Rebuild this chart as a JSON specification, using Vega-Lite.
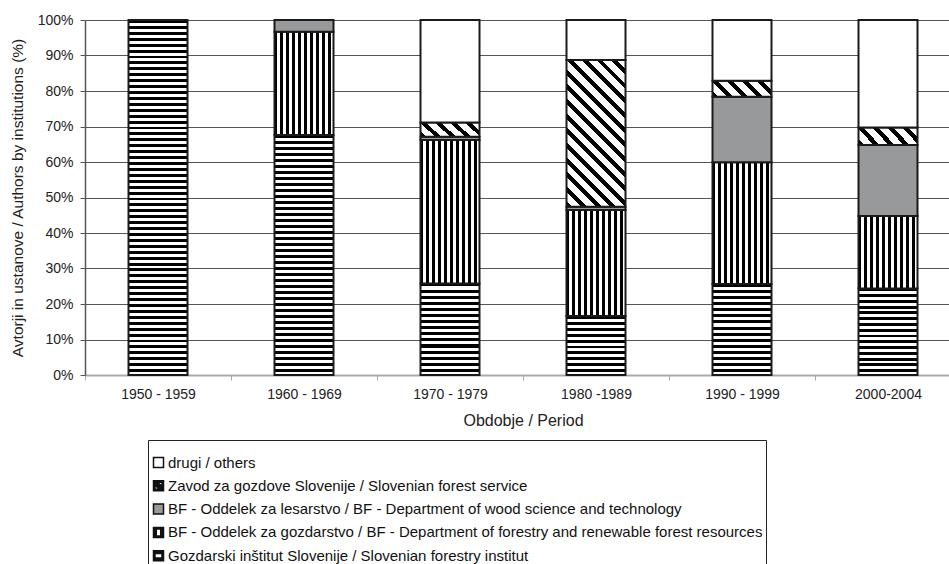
{
"$schema": "https://vega.github.io/schema/vega-lite/v6.json",
"width": 864,
"height": 355,
"autosize": {"type": "none"},
"padding": {"left": 85, "top": 20, "right": 0, "bottom": 189},
"background": "white",
"config": {
  "font": "Liberation Sans",
  "view": {"stroke": null},
  "axis": {"labelFont": "Liberation Sans", "titleFont": "Liberation Sans", "labelColor": "#222", "titleColor": "#222", "labelFontSize": 14, "titleFontWeight": "normal"},
  "legend": {"labelFont": "Liberation Sans", "titleFont": "Liberation Sans"}
},
"data": {"values": [
  {"period": "1950 - 1959", "inst": "Gozdarski inštitut Slovenije / Slovenian forestry institut", "ord": 1, "pct": 100},
  {"period": "1960 - 1969", "inst": "Gozdarski inštitut Slovenije / Slovenian forestry institut", "ord": 1, "pct": 67.6},
  {"period": "1960 - 1969", "inst": "BF - Oddelek za gozdarstvo / BF - Department of forestry and renewable forest resources", "ord": 2, "pct": 29.1},
  {"period": "1960 - 1969", "inst": "BF - Oddelek za lesarstvo / BF - Department of wood science and technology", "ord": 3, "pct": 3.3},
  {"period": "1970 - 1979", "inst": "Gozdarski inštitut Slovenije / Slovenian forestry institut", "ord": 1, "pct": 25.8},
  {"period": "1970 - 1979", "inst": "BF - Oddelek za gozdarstvo / BF - Department of forestry and renewable forest resources", "ord": 2, "pct": 40.4},
  {"period": "1970 - 1979", "inst": "BF - Oddelek za lesarstvo / BF - Department of wood science and technology", "ord": 3, "pct": 0.9},
  {"period": "1970 - 1979", "inst": "Zavod za gozdove Slovenije / Slovenian forest service", "ord": 4, "pct": 4.0},
  {"period": "1970 - 1979", "inst": "drugi / others", "ord": 5, "pct": 28.9},
  {"period": "1980 -1989", "inst": "Gozdarski inštitut Slovenije / Slovenian forestry institut", "ord": 1, "pct": 16.6},
  {"period": "1980 -1989", "inst": "BF - Oddelek za gozdarstvo / BF - Department of forestry and renewable forest resources", "ord": 2, "pct": 29.9},
  {"period": "1980 -1989", "inst": "BF - Oddelek za lesarstvo / BF - Department of wood science and technology", "ord": 3, "pct": 0.9},
  {"period": "1980 -1989", "inst": "Zavod za gozdove Slovenije / Slovenian forest service", "ord": 4, "pct": 41.3},
  {"period": "1980 -1989", "inst": "drugi / others", "ord": 5, "pct": 11.3},
  {"period": "1990 - 1999", "inst": "Gozdarski inštitut Slovenije / Slovenian forestry institut", "ord": 1, "pct": 25.6},
  {"period": "1990 - 1999", "inst": "BF - Oddelek za gozdarstvo / BF - Department of forestry and renewable forest resources", "ord": 2, "pct": 34.3},
  {"period": "1990 - 1999", "inst": "BF - Oddelek za lesarstvo / BF - Department of wood science and technology", "ord": 3, "pct": 18.5},
  {"period": "1990 - 1999", "inst": "Zavod za gozdove Slovenije / Slovenian forest service", "ord": 4, "pct": 4.5},
  {"period": "1990 - 1999", "inst": "drugi / others", "ord": 5, "pct": 17.1},
  {"period": "2000-2004", "inst": "Gozdarski inštitut Slovenije / Slovenian forestry institut", "ord": 1, "pct": 24.4},
  {"period": "2000-2004", "inst": "BF - Oddelek za gozdarstvo / BF - Department of forestry and renewable forest resources", "ord": 2, "pct": 20.4},
  {"period": "2000-2004", "inst": "BF - Oddelek za lesarstvo / BF - Department of wood science and technology", "ord": 3, "pct": 20.0},
  {"period": "2000-2004", "inst": "Zavod za gozdove Slovenije / Slovenian forest service", "ord": 4, "pct": 4.9},
  {"period": "2000-2004", "inst": "drugi / others", "ord": 5, "pct": 30.3}
]},
"layer": [
{
"mark": {"type": "bar", "width": 59, "strokeWidth": 2, "stroke": "#1a1a1a"},
"encoding": {
  "x": {"field": "period", "type": "nominal", "sort": null,
    "scale": {"range": [0, 876], "paddingInner": 0, "paddingOuter": 0},
    "axis": {"title": "Obdobje / Period", "labelAngle": 0, "tickBand": "extent", "domainColor": "#aaa", "domainWidth": 2, "tickColor": "#aaa", "tickSize": 5, "labelPadding": 7, "titlePadding": 11, "titleFontSize": 16, "grid": false}},
  "y": {"field": "pct", "type": "quantitative", "stack": "zero",
    "scale": {"domain": [0, 100], "nice": false},
    "axis": {"title": "Avtorji in ustanove / Authors by institutions (%)", "titleFontSize": 15.5, "values": [0, 10, 20, 30, 40, 50, 60, 70, 80, 90, 100], "labelExpr": "datum.value + '%'", "grid": true, "gridColor": "#555", "gridWidth": 1, "domainColor": "#555", "domainWidth": 1.5, "tickColor": "#555", "tickSize": 5, "labelPadding": 7, "titlePadding": 12}},
  "order": {"field": "ord", "type": "quantitative"},
  "detail": {"field": "inst", "type": "nominal"},
  "fill": {"condition": [
    {"test": "datum.ord == 1 && datum.period == '1950 - 1959'", "value": {"gradient": "linear", "x1": 0.5, "y1": 0, "x2": 0.5, "y2": 1, "stops": [
      {"offset":0,"color":"#000"},
      {"offset":0.0083,"color":"#000"},{"offset":0.0083,"color":"#fff"},{"offset":0.0167,"color":"#fff"},{"offset":0.0167,"color":"#000"},
      {"offset":0.025,"color":"#000"},{"offset":0.025,"color":"#fff"},{"offset":0.0333,"color":"#fff"},{"offset":0.0333,"color":"#000"},
      {"offset":0.0417,"color":"#000"},{"offset":0.0417,"color":"#fff"},{"offset":0.05,"color":"#fff"},{"offset":0.05,"color":"#000"},
      {"offset":0.0583,"color":"#000"},{"offset":0.0583,"color":"#fff"},{"offset":0.0667,"color":"#fff"},{"offset":0.0667,"color":"#000"},
      {"offset":0.075,"color":"#000"},{"offset":0.075,"color":"#fff"},{"offset":0.0833,"color":"#fff"},{"offset":0.0833,"color":"#000"},
      {"offset":0.0917,"color":"#000"},{"offset":0.0917,"color":"#fff"},{"offset":0.1,"color":"#fff"},{"offset":0.1,"color":"#000"},
      {"offset":0.1083,"color":"#000"},{"offset":0.1083,"color":"#fff"},{"offset":0.1167,"color":"#fff"},{"offset":0.1167,"color":"#000"},
      {"offset":0.125,"color":"#000"},{"offset":0.125,"color":"#fff"},{"offset":0.1333,"color":"#fff"},{"offset":0.1333,"color":"#000"},
      {"offset":0.1417,"color":"#000"},{"offset":0.1417,"color":"#fff"},{"offset":0.15,"color":"#fff"},{"offset":0.15,"color":"#000"},
      {"offset":0.1583,"color":"#000"},{"offset":0.1583,"color":"#fff"},{"offset":0.1667,"color":"#fff"},{"offset":0.1667,"color":"#000"},
      {"offset":0.175,"color":"#000"},{"offset":0.175,"color":"#fff"},{"offset":0.1833,"color":"#fff"},{"offset":0.1833,"color":"#000"},
      {"offset":0.1917,"color":"#000"},{"offset":0.1917,"color":"#fff"},{"offset":0.2,"color":"#fff"},{"offset":0.2,"color":"#000"},
      {"offset":0.2083,"color":"#000"},{"offset":0.2083,"color":"#fff"},{"offset":0.2167,"color":"#fff"},{"offset":0.2167,"color":"#000"},
      {"offset":0.225,"color":"#000"},{"offset":0.225,"color":"#fff"},{"offset":0.2333,"color":"#fff"},{"offset":0.2333,"color":"#000"},
      {"offset":0.2417,"color":"#000"},{"offset":0.2417,"color":"#fff"},{"offset":0.25,"color":"#fff"},{"offset":0.25,"color":"#000"},
      {"offset":0.2583,"color":"#000"},{"offset":0.2583,"color":"#fff"},{"offset":0.2667,"color":"#fff"},{"offset":0.2667,"color":"#000"},
      {"offset":0.275,"color":"#000"},{"offset":0.275,"color":"#fff"},{"offset":0.2833,"color":"#fff"},{"offset":0.2833,"color":"#000"},
      {"offset":0.2917,"color":"#000"},{"offset":0.2917,"color":"#fff"},{"offset":0.3,"color":"#fff"},{"offset":0.3,"color":"#000"},
      {"offset":0.3083,"color":"#000"},{"offset":0.3083,"color":"#fff"},{"offset":0.3167,"color":"#fff"},{"offset":0.3167,"color":"#000"},
      {"offset":0.325,"color":"#000"},{"offset":0.325,"color":"#fff"},{"offset":0.3333,"color":"#fff"},{"offset":0.3333,"color":"#000"},
      {"offset":0.3417,"color":"#000"},{"offset":0.3417,"color":"#fff"},{"offset":0.35,"color":"#fff"},{"offset":0.35,"color":"#000"},
      {"offset":0.3583,"color":"#000"},{"offset":0.3583,"color":"#fff"},{"offset":0.3667,"color":"#fff"},{"offset":0.3667,"color":"#000"},
      {"offset":0.375,"color":"#000"},{"offset":0.375,"color":"#fff"},{"offset":0.3833,"color":"#fff"},{"offset":0.3833,"color":"#000"},
      {"offset":0.3917,"color":"#000"},{"offset":0.3917,"color":"#fff"},{"offset":0.4,"color":"#fff"},{"offset":0.4,"color":"#000"},
      {"offset":0.4083,"color":"#000"},{"offset":0.4083,"color":"#fff"},{"offset":0.4167,"color":"#fff"},{"offset":0.4167,"color":"#000"},
      {"offset":0.425,"color":"#000"},{"offset":0.425,"color":"#fff"},{"offset":0.4333,"color":"#fff"},{"offset":0.4333,"color":"#000"},
      {"offset":0.4417,"color":"#000"},{"offset":0.4417,"color":"#fff"},{"offset":0.45,"color":"#fff"},{"offset":0.45,"color":"#000"},
      {"offset":0.4583,"color":"#000"},{"offset":0.4583,"color":"#fff"},{"offset":0.4667,"color":"#fff"},{"offset":0.4667,"color":"#000"},
      {"offset":0.475,"color":"#000"},{"offset":0.475,"color":"#fff"},{"offset":0.4833,"color":"#fff"},{"offset":0.4833,"color":"#000"},
      {"offset":0.4917,"color":"#000"},{"offset":0.4917,"color":"#fff"},{"offset":0.5,"color":"#fff"},{"offset":0.5,"color":"#000"},
      {"offset":0.5083,"color":"#000"},{"offset":0.5083,"color":"#fff"},{"offset":0.5167,"color":"#fff"},{"offset":0.5167,"color":"#000"},
      {"offset":0.525,"color":"#000"},{"offset":0.525,"color":"#fff"},{"offset":0.5333,"color":"#fff"},{"offset":0.5333,"color":"#000"},
      {"offset":0.5417,"color":"#000"},{"offset":0.5417,"color":"#fff"},{"offset":0.55,"color":"#fff"},{"offset":0.55,"color":"#000"},
      {"offset":0.5583,"color":"#000"},{"offset":0.5583,"color":"#fff"},{"offset":0.5667,"color":"#fff"},{"offset":0.5667,"color":"#000"},
      {"offset":0.575,"color":"#000"},{"offset":0.575,"color":"#fff"},{"offset":0.5833,"color":"#fff"},{"offset":0.5833,"color":"#000"},
      {"offset":0.5917,"color":"#000"},{"offset":0.5917,"color":"#fff"},{"offset":0.6,"color":"#fff"},{"offset":0.6,"color":"#000"},
      {"offset":0.6083,"color":"#000"},{"offset":0.6083,"color":"#fff"},{"offset":0.6167,"color":"#fff"},{"offset":0.6167,"color":"#000"},
      {"offset":0.625,"color":"#000"},{"offset":0.625,"color":"#fff"},{"offset":0.6333,"color":"#fff"},{"offset":0.6333,"color":"#000"},
      {"offset":0.6417,"color":"#000"},{"offset":0.6417,"color":"#fff"},{"offset":0.65,"color":"#fff"},{"offset":0.65,"color":"#000"},
      {"offset":0.6583,"color":"#000"},{"offset":0.6583,"color":"#fff"},{"offset":0.6667,"color":"#fff"},{"offset":0.6667,"color":"#000"},
      {"offset":0.675,"color":"#000"},{"offset":0.675,"color":"#fff"},{"offset":0.6833,"color":"#fff"},{"offset":0.6833,"color":"#000"},
      {"offset":0.6917,"color":"#000"},{"offset":0.6917,"color":"#fff"},{"offset":0.7,"color":"#fff"},{"offset":0.7,"color":"#000"},
      {"offset":0.7083,"color":"#000"},{"offset":0.7083,"color":"#fff"},{"offset":0.7167,"color":"#fff"},{"offset":0.7167,"color":"#000"},
      {"offset":0.725,"color":"#000"},{"offset":0.725,"color":"#fff"},{"offset":0.7333,"color":"#fff"},{"offset":0.7333,"color":"#000"},
      {"offset":0.7417,"color":"#000"},{"offset":0.7417,"color":"#fff"},{"offset":0.75,"color":"#fff"},{"offset":0.75,"color":"#000"},
      {"offset":0.7583,"color":"#000"},{"offset":0.7583,"color":"#fff"},{"offset":0.7667,"color":"#fff"},{"offset":0.7667,"color":"#000"},
      {"offset":0.775,"color":"#000"},{"offset":0.775,"color":"#fff"},{"offset":0.7833,"color":"#fff"},{"offset":0.7833,"color":"#000"},
      {"offset":0.7917,"color":"#000"},{"offset":0.7917,"color":"#fff"},{"offset":0.8,"color":"#fff"},{"offset":0.8,"color":"#000"},
      {"offset":0.8083,"color":"#000"},{"offset":0.8083,"color":"#fff"},{"offset":0.8167,"color":"#fff"},{"offset":0.8167,"color":"#000"},
      {"offset":0.825,"color":"#000"},{"offset":0.825,"color":"#fff"},{"offset":0.8333,"color":"#fff"},{"offset":0.8333,"color":"#000"},
      {"offset":0.8417,"color":"#000"},{"offset":0.8417,"color":"#fff"},{"offset":0.85,"color":"#fff"},{"offset":0.85,"color":"#000"},
      {"offset":0.8583,"color":"#000"},{"offset":0.8583,"color":"#fff"},{"offset":0.8667,"color":"#fff"},{"offset":0.8667,"color":"#000"},
      {"offset":0.875,"color":"#000"},{"offset":0.875,"color":"#fff"},{"offset":0.8833,"color":"#fff"},{"offset":0.8833,"color":"#000"},
      {"offset":0.8917,"color":"#000"},{"offset":0.8917,"color":"#fff"},{"offset":0.9,"color":"#fff"},{"offset":0.9,"color":"#000"},
      {"offset":0.9083,"color":"#000"},{"offset":0.9083,"color":"#fff"},{"offset":0.9167,"color":"#fff"},{"offset":0.9167,"color":"#000"},
      {"offset":0.925,"color":"#000"},{"offset":0.925,"color":"#fff"},{"offset":0.9333,"color":"#fff"},{"offset":0.9333,"color":"#000"},
      {"offset":0.9417,"color":"#000"},{"offset":0.9417,"color":"#fff"},{"offset":0.95,"color":"#fff"},{"offset":0.95,"color":"#000"},
      {"offset":0.9583,"color":"#000"},{"offset":0.9583,"color":"#fff"},{"offset":0.9667,"color":"#fff"},{"offset":0.9667,"color":"#000"},
      {"offset":0.975,"color":"#000"},{"offset":0.975,"color":"#fff"},{"offset":0.9833,"color":"#fff"},{"offset":0.9833,"color":"#000"},
      {"offset":0.9917,"color":"#000"},{"offset":0.9917,"color":"#fff"},{"offset":1,"color":"#fff"}
    ]}},
    {"test": "datum.ord == 1 && datum.period == '1960 - 1969'", "value": {"gradient": "linear", "x1": 0.5, "y1": 0, "x2": 0.5, "y2": 1, "stops": [
      {"offset":0,"color":"#000"},
      {"offset":0.0125,"color":"#000"},{"offset":0.0125,"color":"#fff"},{"offset":0.025,"color":"#fff"},{"offset":0.025,"color":"#000"},
      {"offset":0.0375,"color":"#000"},{"offset":0.0375,"color":"#fff"},{"offset":0.05,"color":"#fff"},{"offset":0.05,"color":"#000"},
      {"offset":0.0625,"color":"#000"},{"offset":0.0625,"color":"#fff"},{"offset":0.075,"color":"#fff"},{"offset":0.075,"color":"#000"},
      {"offset":0.0875,"color":"#000"},{"offset":0.0875,"color":"#fff"},{"offset":0.1,"color":"#fff"},{"offset":0.1,"color":"#000"},
      {"offset":0.1125,"color":"#000"},{"offset":0.1125,"color":"#fff"},{"offset":0.125,"color":"#fff"},{"offset":0.125,"color":"#000"},
      {"offset":0.1375,"color":"#000"},{"offset":0.1375,"color":"#fff"},{"offset":0.15,"color":"#fff"},{"offset":0.15,"color":"#000"},
      {"offset":0.1625,"color":"#000"},{"offset":0.1625,"color":"#fff"},{"offset":0.175,"color":"#fff"},{"offset":0.175,"color":"#000"},
      {"offset":0.1875,"color":"#000"},{"offset":0.1875,"color":"#fff"},{"offset":0.2,"color":"#fff"},{"offset":0.2,"color":"#000"},
      {"offset":0.2125,"color":"#000"},{"offset":0.2125,"color":"#fff"},{"offset":0.225,"color":"#fff"},{"offset":0.225,"color":"#000"},
      {"offset":0.2375,"color":"#000"},{"offset":0.2375,"color":"#fff"},{"offset":0.25,"color":"#fff"},{"offset":0.25,"color":"#000"},
      {"offset":0.2625,"color":"#000"},{"offset":0.2625,"color":"#fff"},{"offset":0.275,"color":"#fff"},{"offset":0.275,"color":"#000"},
      {"offset":0.2875,"color":"#000"},{"offset":0.2875,"color":"#fff"},{"offset":0.3,"color":"#fff"},{"offset":0.3,"color":"#000"},
      {"offset":0.3125,"color":"#000"},{"offset":0.3125,"color":"#fff"},{"offset":0.325,"color":"#fff"},{"offset":0.325,"color":"#000"},
      {"offset":0.3375,"color":"#000"},{"offset":0.3375,"color":"#fff"},{"offset":0.35,"color":"#fff"},{"offset":0.35,"color":"#000"},
      {"offset":0.3625,"color":"#000"},{"offset":0.3625,"color":"#fff"},{"offset":0.375,"color":"#fff"},{"offset":0.375,"color":"#000"},
      {"offset":0.3875,"color":"#000"},{"offset":0.3875,"color":"#fff"},{"offset":0.4,"color":"#fff"},{"offset":0.4,"color":"#000"},
      {"offset":0.4125,"color":"#000"},{"offset":0.4125,"color":"#fff"},{"offset":0.425,"color":"#fff"},{"offset":0.425,"color":"#000"},
      {"offset":0.4375,"color":"#000"},{"offset":0.4375,"color":"#fff"},{"offset":0.45,"color":"#fff"},{"offset":0.45,"color":"#000"},
      {"offset":0.4625,"color":"#000"},{"offset":0.4625,"color":"#fff"},{"offset":0.475,"color":"#fff"},{"offset":0.475,"color":"#000"},
      {"offset":0.4875,"color":"#000"},{"offset":0.4875,"color":"#fff"},{"offset":0.5,"color":"#fff"},{"offset":0.5,"color":"#000"},
      {"offset":0.5125,"color":"#000"},{"offset":0.5125,"color":"#fff"},{"offset":0.525,"color":"#fff"},{"offset":0.525,"color":"#000"},
      {"offset":0.5375,"color":"#000"},{"offset":0.5375,"color":"#fff"},{"offset":0.55,"color":"#fff"},{"offset":0.55,"color":"#000"},
      {"offset":0.5625,"color":"#000"},{"offset":0.5625,"color":"#fff"},{"offset":0.575,"color":"#fff"},{"offset":0.575,"color":"#000"},
      {"offset":0.5875,"color":"#000"},{"offset":0.5875,"color":"#fff"},{"offset":0.6,"color":"#fff"},{"offset":0.6,"color":"#000"},
      {"offset":0.6125,"color":"#000"},{"offset":0.6125,"color":"#fff"},{"offset":0.625,"color":"#fff"},{"offset":0.625,"color":"#000"},
      {"offset":0.6375,"color":"#000"},{"offset":0.6375,"color":"#fff"},{"offset":0.65,"color":"#fff"},{"offset":0.65,"color":"#000"},
      {"offset":0.6625,"color":"#000"},{"offset":0.6625,"color":"#fff"},{"offset":0.675,"color":"#fff"},{"offset":0.675,"color":"#000"},
      {"offset":0.6875,"color":"#000"},{"offset":0.6875,"color":"#fff"},{"offset":0.7,"color":"#fff"},{"offset":0.7,"color":"#000"},
      {"offset":0.7125,"color":"#000"},{"offset":0.7125,"color":"#fff"},{"offset":0.725,"color":"#fff"},{"offset":0.725,"color":"#000"},
      {"offset":0.7375,"color":"#000"},{"offset":0.7375,"color":"#fff"},{"offset":0.75,"color":"#fff"},{"offset":0.75,"color":"#000"},
      {"offset":0.7625,"color":"#000"},{"offset":0.7625,"color":"#fff"},{"offset":0.775,"color":"#fff"},{"offset":0.775,"color":"#000"},
      {"offset":0.7875,"color":"#000"},{"offset":0.7875,"color":"#fff"},{"offset":0.8,"color":"#fff"},{"offset":0.8,"color":"#000"},
      {"offset":0.8125,"color":"#000"},{"offset":0.8125,"color":"#fff"},{"offset":0.825,"color":"#fff"},{"offset":0.825,"color":"#000"},
      {"offset":0.8375,"color":"#000"},{"offset":0.8375,"color":"#fff"},{"offset":0.85,"color":"#fff"},{"offset":0.85,"color":"#000"},
      {"offset":0.8625,"color":"#000"},{"offset":0.8625,"color":"#fff"},{"offset":0.875,"color":"#fff"},{"offset":0.875,"color":"#000"},
      {"offset":0.8875,"color":"#000"},{"offset":0.8875,"color":"#fff"},{"offset":0.9,"color":"#fff"},{"offset":0.9,"color":"#000"},
      {"offset":0.9125,"color":"#000"},{"offset":0.9125,"color":"#fff"},{"offset":0.925,"color":"#fff"},{"offset":0.925,"color":"#000"},
      {"offset":0.9375,"color":"#000"},{"offset":0.9375,"color":"#fff"},{"offset":0.95,"color":"#fff"},{"offset":0.95,"color":"#000"},
      {"offset":0.9625,"color":"#000"},{"offset":0.9625,"color":"#fff"},{"offset":0.975,"color":"#fff"},{"offset":0.975,"color":"#000"},
      {"offset":0.9875,"color":"#000"},{"offset":0.9875,"color":"#fff"},{"offset":1,"color":"#fff"}
    ]}},
    {"test": "datum.ord == 1 && datum.period == '1980 -1989'", "value": {"gradient": "linear", "x1": 0.5, "y1": 0, "x2": 0.5, "y2": 1, "stops": [
      {"offset":0,"color":"#000"},
      {"offset":0.05,"color":"#000"},{"offset":0.05,"color":"#fff"},{"offset":0.1,"color":"#fff"},{"offset":0.1,"color":"#000"},
      {"offset":0.15,"color":"#000"},{"offset":0.15,"color":"#fff"},{"offset":0.2,"color":"#fff"},{"offset":0.2,"color":"#000"},
      {"offset":0.25,"color":"#000"},{"offset":0.25,"color":"#fff"},{"offset":0.3,"color":"#fff"},{"offset":0.3,"color":"#000"},
      {"offset":0.35,"color":"#000"},{"offset":0.35,"color":"#fff"},{"offset":0.4,"color":"#fff"},{"offset":0.4,"color":"#000"},
      {"offset":0.45,"color":"#000"},{"offset":0.45,"color":"#fff"},{"offset":0.5,"color":"#fff"},{"offset":0.5,"color":"#000"},
      {"offset":0.55,"color":"#000"},{"offset":0.55,"color":"#fff"},{"offset":0.6,"color":"#fff"},{"offset":0.6,"color":"#000"},
      {"offset":0.65,"color":"#000"},{"offset":0.65,"color":"#fff"},{"offset":0.7,"color":"#fff"},{"offset":0.7,"color":"#000"},
      {"offset":0.75,"color":"#000"},{"offset":0.75,"color":"#fff"},{"offset":0.8,"color":"#fff"},{"offset":0.8,"color":"#000"},
      {"offset":0.85,"color":"#000"},{"offset":0.85,"color":"#fff"},{"offset":0.9,"color":"#fff"},{"offset":0.9,"color":"#000"},
      {"offset":0.95,"color":"#000"},{"offset":0.95,"color":"#fff"},{"offset":1,"color":"#fff"}
    ]}},
    {"test": "datum.ord == 1", "value": {"gradient": "linear", "x1": 0.5, "y1": 0, "x2": 0.5, "y2": 1, "stops": [
      {"offset":0,"color":"#000"},
      {"offset":0.0333,"color":"#000"},{"offset":0.0333,"color":"#fff"},{"offset":0.0667,"color":"#fff"},{"offset":0.0667,"color":"#000"},
      {"offset":0.1,"color":"#000"},{"offset":0.1,"color":"#fff"},{"offset":0.1333,"color":"#fff"},{"offset":0.1333,"color":"#000"},
      {"offset":0.1667,"color":"#000"},{"offset":0.1667,"color":"#fff"},{"offset":0.2,"color":"#fff"},{"offset":0.2,"color":"#000"},
      {"offset":0.2333,"color":"#000"},{"offset":0.2333,"color":"#fff"},{"offset":0.2667,"color":"#fff"},{"offset":0.2667,"color":"#000"},
      {"offset":0.3,"color":"#000"},{"offset":0.3,"color":"#fff"},{"offset":0.3333,"color":"#fff"},{"offset":0.3333,"color":"#000"},
      {"offset":0.3667,"color":"#000"},{"offset":0.3667,"color":"#fff"},{"offset":0.4,"color":"#fff"},{"offset":0.4,"color":"#000"},
      {"offset":0.4333,"color":"#000"},{"offset":0.4333,"color":"#fff"},{"offset":0.4667,"color":"#fff"},{"offset":0.4667,"color":"#000"},
      {"offset":0.5,"color":"#000"},{"offset":0.5,"color":"#fff"},{"offset":0.5333,"color":"#fff"},{"offset":0.5333,"color":"#000"},
      {"offset":0.5667,"color":"#000"},{"offset":0.5667,"color":"#fff"},{"offset":0.6,"color":"#fff"},{"offset":0.6,"color":"#000"},
      {"offset":0.6333,"color":"#000"},{"offset":0.6333,"color":"#fff"},{"offset":0.6667,"color":"#fff"},{"offset":0.6667,"color":"#000"},
      {"offset":0.7,"color":"#000"},{"offset":0.7,"color":"#fff"},{"offset":0.7333,"color":"#fff"},{"offset":0.7333,"color":"#000"},
      {"offset":0.7667,"color":"#000"},{"offset":0.7667,"color":"#fff"},{"offset":0.8,"color":"#fff"},{"offset":0.8,"color":"#000"},
      {"offset":0.8333,"color":"#000"},{"offset":0.8333,"color":"#fff"},{"offset":0.8667,"color":"#fff"},{"offset":0.8667,"color":"#000"},
      {"offset":0.9,"color":"#000"},{"offset":0.9,"color":"#fff"},{"offset":0.9333,"color":"#fff"},{"offset":0.9333,"color":"#000"},
      {"offset":0.9667,"color":"#000"},{"offset":0.9667,"color":"#fff"},{"offset":1,"color":"#fff"}
    ]}},
    {"test": "datum.ord == 2", "value": {"gradient": "linear", "x1": 0, "y1": 0, "x2": 1, "y2": 0, "stops": [
      {"offset":0,"color":"#000"},
      {"offset":0.05,"color":"#000"},{"offset":0.05,"color":"#fff"},{"offset":0.1,"color":"#fff"},{"offset":0.1,"color":"#000"},
      {"offset":0.15,"color":"#000"},{"offset":0.15,"color":"#fff"},{"offset":0.2,"color":"#fff"},{"offset":0.2,"color":"#000"},
      {"offset":0.25,"color":"#000"},{"offset":0.25,"color":"#fff"},{"offset":0.3,"color":"#fff"},{"offset":0.3,"color":"#000"},
      {"offset":0.35,"color":"#000"},{"offset":0.35,"color":"#fff"},{"offset":0.4,"color":"#fff"},{"offset":0.4,"color":"#000"},
      {"offset":0.45,"color":"#000"},{"offset":0.45,"color":"#fff"},{"offset":0.5,"color":"#fff"},{"offset":0.5,"color":"#000"},
      {"offset":0.55,"color":"#000"},{"offset":0.55,"color":"#fff"},{"offset":0.6,"color":"#fff"},{"offset":0.6,"color":"#000"},
      {"offset":0.65,"color":"#000"},{"offset":0.65,"color":"#fff"},{"offset":0.7,"color":"#fff"},{"offset":0.7,"color":"#000"},
      {"offset":0.75,"color":"#000"},{"offset":0.75,"color":"#fff"},{"offset":0.8,"color":"#fff"},{"offset":0.8,"color":"#000"},
      {"offset":0.85,"color":"#000"},{"offset":0.85,"color":"#fff"},{"offset":0.9,"color":"#fff"},{"offset":0.9,"color":"#000"},
      {"offset":0.95,"color":"#000"},{"offset":0.95,"color":"#fff"},{"offset":1,"color":"#fff"}
    ]}},
    {"test": "datum.ord == 3", "value": "#98999b"},
    {"test": "datum.ord == 4 && datum.period == '1980 -1989'", "value": {"gradient": "linear", "x1": 0, "y1": 1, "x2": 0.4857, "y2": -0.207, "stops": [
      {"offset":0,"color":"#000"},{"offset":0.0286,"color":"#000"},{"offset":0.0286,"color":"#fff"},{"offset":0.0714,"color":"#fff"},
      {"offset":0.0714,"color":"#000"},{"offset":0.1,"color":"#000"},{"offset":0.1,"color":"#fff"},{"offset":0.1429,"color":"#fff"},
      {"offset":0.1429,"color":"#000"},{"offset":0.1714,"color":"#000"},{"offset":0.1714,"color":"#fff"},{"offset":0.2143,"color":"#fff"},
      {"offset":0.2143,"color":"#000"},{"offset":0.2429,"color":"#000"},{"offset":0.2429,"color":"#fff"},{"offset":0.2857,"color":"#fff"},
      {"offset":0.2857,"color":"#000"},{"offset":0.3143,"color":"#000"},{"offset":0.3143,"color":"#fff"},{"offset":0.3571,"color":"#fff"},
      {"offset":0.3571,"color":"#000"},{"offset":0.3857,"color":"#000"},{"offset":0.3857,"color":"#fff"},{"offset":0.4286,"color":"#fff"},
      {"offset":0.4286,"color":"#000"},{"offset":0.4571,"color":"#000"},{"offset":0.4571,"color":"#fff"},{"offset":0.5,"color":"#fff"},
      {"offset":0.5,"color":"#000"},{"offset":0.5286,"color":"#000"},{"offset":0.5286,"color":"#fff"},{"offset":0.5714,"color":"#fff"},
      {"offset":0.5714,"color":"#000"},{"offset":0.6,"color":"#000"},{"offset":0.6,"color":"#fff"},{"offset":0.6429,"color":"#fff"},
      {"offset":0.6429,"color":"#000"},{"offset":0.6714,"color":"#000"},{"offset":0.6714,"color":"#fff"},{"offset":0.7143,"color":"#fff"},
      {"offset":0.7143,"color":"#000"},{"offset":0.7429,"color":"#000"},{"offset":0.7429,"color":"#fff"},{"offset":0.7857,"color":"#fff"},
      {"offset":0.7857,"color":"#000"},{"offset":0.8143,"color":"#000"},{"offset":0.8143,"color":"#fff"},{"offset":0.8571,"color":"#fff"},
      {"offset":0.8571,"color":"#000"},{"offset":0.8857,"color":"#000"},{"offset":0.8857,"color":"#fff"},{"offset":0.9286,"color":"#fff"},
      {"offset":0.9286,"color":"#000"},{"offset":0.9571,"color":"#000"},{"offset":0.9571,"color":"#fff"},{"offset":1,"color":"#fff"}
    ]}},
    {"test": "datum.ord == 4", "value": {"gradient": "linear", "x1": 0, "y1": 1, "x2": 1.1841, "y2": 0.6789, "stops": [
      {"offset":0,"color":"#000"},{"offset":0.08,"color":"#000"},{"offset":0.08,"color":"#fff"},{"offset":0.2,"color":"#fff"},
      {"offset":0.2,"color":"#000"},{"offset":0.28,"color":"#000"},{"offset":0.28,"color":"#fff"},{"offset":0.4,"color":"#fff"},
      {"offset":0.4,"color":"#000"},{"offset":0.48,"color":"#000"},{"offset":0.48,"color":"#fff"},{"offset":0.6,"color":"#fff"},
      {"offset":0.6,"color":"#000"},{"offset":0.68,"color":"#000"},{"offset":0.68,"color":"#fff"},{"offset":0.8,"color":"#fff"},
      {"offset":0.8,"color":"#000"},{"offset":0.88,"color":"#000"},{"offset":0.88,"color":"#fff"},{"offset":1,"color":"#fff"}
    ]}}
  ], "value": "#fff"}
}
},
{
"transform": [{"filter": "false"}],
"mark": {"type": "point", "filled": true, "strokeWidth": 1.5, "opacity": 1},
"encoding": {
  "fill": {"field": "inst", "type": "nominal",
    "scale": {"domain": ["drugi / others", "Zavod za gozdove Slovenije / Slovenian forest service", "BF - Oddelek za lesarstvo / BF - Department of wood science and technology", "BF - Oddelek za gozdarstvo / BF - Department of forestry and renewable forest resources", "Gozdarski inštitut Slovenije / Slovenian forestry institut"],
      "range": ["#fff", "#111", "#98999b", "#111", "#111"]},
    "legend": {"title": " ", "orient": "none", "legendX": 63, "legendY": 420, "padding": 3, "strokeColor": "#222", "titleFontSize": 8, "titlePadding": 4, "labelFontSize": 15, "labelLimit": 2000, "labelOffset": 2, "rowPadding": 6.3, "symbolSize": 100, "labelColor": "#111", "symbolStrokeWidth": 1.5}},
  "stroke": {"field": "inst", "type": "nominal",
    "scale": {"domain": ["drugi / others", "Zavod za gozdove Slovenije / Slovenian forest service", "BF - Oddelek za lesarstvo / BF - Department of wood science and technology", "BF - Oddelek za gozdarstvo / BF - Department of forestry and renewable forest resources", "Gozdarski inštitut Slovenije / Slovenian forestry institut"],
      "range": ["#111", "#111", "#111", "#111", "#111"]},
    "legend": {"title": " ", "orient": "none", "legendX": 63, "legendY": 420, "padding": 3, "strokeColor": "#222", "titleFontSize": 8, "titlePadding": 4, "labelFontSize": 15, "labelLimit": 2000, "labelOffset": 2, "rowPadding": 6.3, "symbolSize": 100, "labelColor": "#111", "symbolStrokeWidth": 1.5}},
  "shape": {"field": "inst", "type": "nominal",
    "scale": {"domain": ["drugi / others", "Zavod za gozdove Slovenije / Slovenian forest service", "BF - Oddelek za lesarstvo / BF - Department of wood science and technology", "BF - Oddelek za gozdarstvo / BF - Department of forestry and renewable forest resources", "Gozdarski inštitut Slovenije / Slovenian forestry institut"],
      "range": ["square", "M-1,-1H1V1H-1Z M-0.15,-0.7L0.7,0.15L0.7,-0.7Z M-0.7,-0.15L-0.7,0.7L0.15,0.7Z", "square", "M-1,-1H1V1H-1Z M-0.45,-0.7V0.7H0.45V-0.7Z", "M-1,-1H1V1H-1Z M-0.7,-0.45V0.45H0.7V-0.45Z"]},
    "legend": {"title": " ", "orient": "none", "legendX": 63, "legendY": 420, "padding": 3, "strokeColor": "#222", "titleFontSize": 8, "titlePadding": 4, "labelFontSize": 15, "labelLimit": 2000, "labelOffset": 2, "rowPadding": 6.3, "symbolSize": 100, "labelColor": "#111", "symbolStrokeWidth": 1.5}}
}
}
]
}
